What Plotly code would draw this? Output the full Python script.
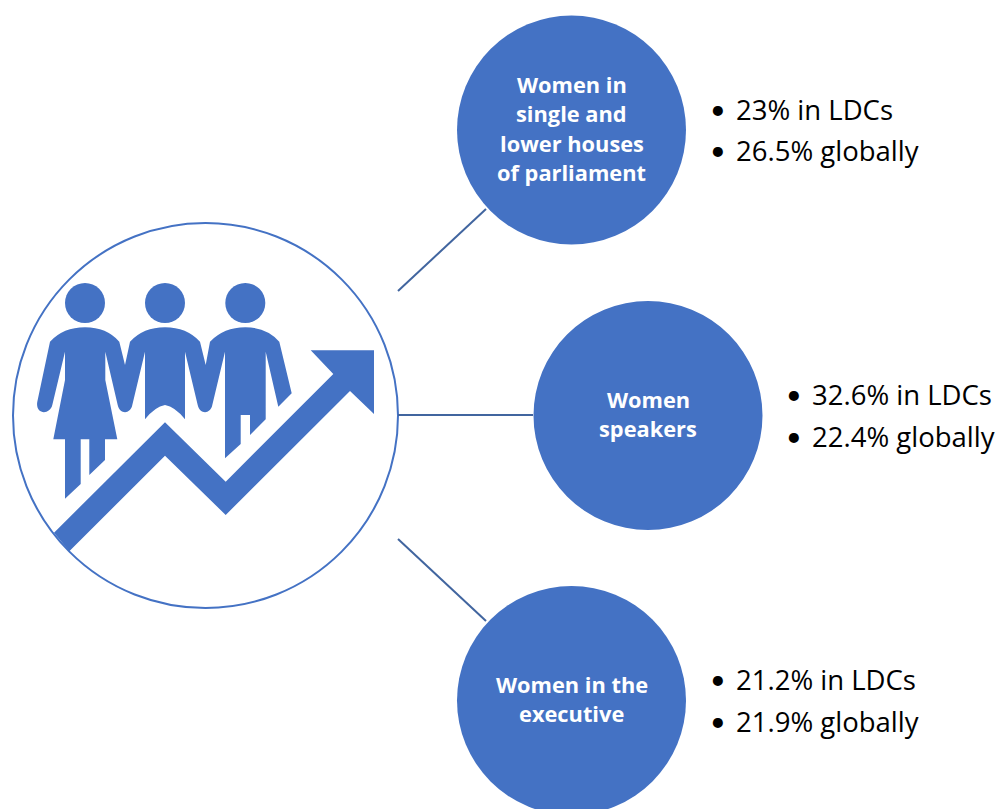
import plotly.graph_objects as go

# Data
circle_labels = [
    ["Women in", "single and", "lower houses", "of parliament"],
    ["Women", "speakers"],
    ["Women in the", "executive"],
]
ldc_share = ["23%", "32.6%", "21.2%"]
global_share = ["26.5%", "22.4%", "21.9%"]

BLUE = "#4472C4"
LINE = "#41659F"
FONT = "Open Sans"

# circle centres in pixels
centres = [(571.5, 130), (648, 415.5), (571.5, 700.5)]
radius = 114.5
spokes = [(398, 291, 486, 209), (398, 415, 533, 415), (398, 539, 486, 621)]
head_x = [85, 165, 245.3]

shapes = []
annotations = []

# big ring with the icon
shapes.append(dict(type="circle", x0=13, x1=398, y0=223, y1=608,
                   line=dict(color=BLUE, width=2), fillcolor="white"))


def z(x, y):
    # icon was measured on a 3x crop starting at (0, 210)
    return f"{x / 3:.1f},{210 + y / 3:.1f}"


def path(cmds):
    out = ""
    for c in cmds:
        out += c[0] + " ".join(z(c[i], c[i + 1]) for i in range(1, len(c), 2)) + " "
    return out + "Z"


people = path([
    ("M", 255, 352), ("Q", 190, 352, 150, 395), ("L", 112, 575),
    ("C", 105, 615, 150, 615, 157, 585), ("L", 195, 425), ("L", 195, 510), ("L", 160, 688),
    ("L", 195, 688), ("L", 195, 866), ("L", 242, 822), ("L", 242, 688), ("L", 268, 688),
    ("L", 268, 795), ("L", 315, 750), ("L", 315, 688), ("L", 352, 688), ("L", 316, 510),
    ("L", 316, 425), ("L", 353, 585), ("C", 360, 615, 392, 612, 397, 585), ("L", 435, 425),
    ("L", 435, 628), ("Q", 465, 590, 495, 585), ("Q", 525, 590, 555, 628), ("L", 555, 425),
    ("L", 593, 585), ("C", 600, 615, 632, 612, 637, 585), ("L", 675, 425), ("L", 675, 745),
    ("L", 722, 702), ("L", 722, 615), ("L", 750, 615), ("L", 750, 675), ("L", 797, 628),
    ("L", 797, 425), ("L", 835, 590), ("L", 875, 550), ("L", 838, 395),
    ("Q", 800, 352, 736, 352), ("Q", 672, 352, 630, 395), ("L", 617, 465), ("L", 600, 395),
    ("Q", 560, 352, 495, 352), ("Q", 430, 352, 390, 395), ("L", 375, 465), ("L", 358, 395),
    ("Q", 320, 352, 255, 352),
])
shapes.append(dict(type="path", path=people, fillcolor=BLUE, line_width=0))

arrow = path([
    ("M", 162, 968), ("L", 495, 637), ("L", 677, 815), ("L", 1000, 492), ("L", 932, 421),
    ("L", 1122, 421), ("L", 1122, 612), ("L", 1050, 543), ("L", 677, 915), ("L", 495, 737),
    ("L", 208, 1024),
])
shapes.append(dict(type="path", path=arrow, fillcolor=BLUE, line_width=0))

for hx in head_x:
    shapes.append(dict(type="circle", x0=hx - 20, x1=hx + 20, y0=283, y1=323,
                       fillcolor=BLUE, line_width=0))

for x0, y0, x1, y1 in spokes:
    shapes.append(dict(type="line", x0=x0, y0=y0, x1=x1, y1=y1,
                       line=dict(color=LINE, width=2)))

for i, (cx, cy) in enumerate(centres):
    shapes.append(dict(type="circle", x0=cx - radius, x1=cx + radius,
                       y0=cy - radius, y1=cy + radius, fillcolor=BLUE, line_width=0))

    # circle caption, one annotation per line so the leading can be set
    lines = circle_labels[i]
    top = cy - 1.5 - (len(lines) - 1) * 29.3 / 2
    for j, txt in enumerate(lines):
        annotations.append(dict(x=cx, y=top + j * 29.3, text=f"<b>{txt}</b>", showarrow=False,
                                xanchor="center", yanchor="middle",
                                font=dict(family=FONT, size=21.8, color="white")))

    # bullets to the right
    bx = cx + 146
    tx = cx + 162
    for y, txt in [(cy - 21, f"{ldc_share[i]} in LDCs"), (cy + 20.5, f"{global_share[i]} globally")]:
        annotations.append(dict(x=bx, y=y - 1, text="•", showarrow=False, xanchor="center",
                                yanchor="middle", font=dict(family="Lato", size=27, color="black")))
        annotations.append(dict(x=tx, y=y, text=txt, showarrow=False, xanchor="left",
                                yanchor="middle", font=dict(family=FONT, size=27.5, color="black")))

fig = go.Figure()
fig.update_layout(
    width=1003, height=809, margin=dict(l=0, r=0, t=0, b=0),
    paper_bgcolor="white", plot_bgcolor="white", showlegend=False,
    xaxis=dict(range=[0, 1003], visible=False, fixedrange=True),
    yaxis=dict(range=[809, 0], visible=False, fixedrange=True),
    shapes=shapes, annotations=annotations,
)
fig.write_html("out.html", config={"displayModeBar": False},
               post_script="document.body.style.margin='0';")
